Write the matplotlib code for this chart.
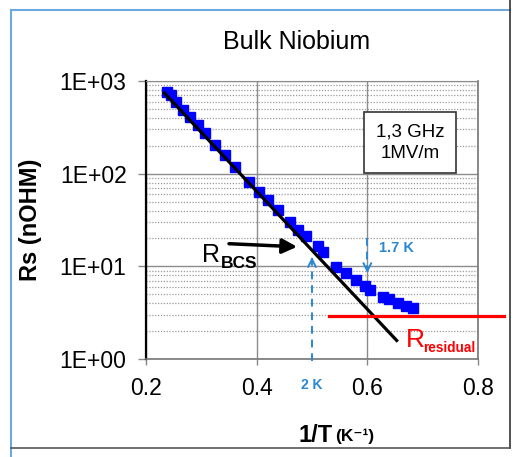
import numpy as np
import matplotlib
matplotlib.use('Agg')
from matplotlib import pyplot as plt
from matplotlib.lines import Line2D
from matplotlib.ticker import FixedLocator, FuncFormatter, LogLocator, NullFormatter

plt.rcParams['font.family'] = ['Liberation Sans', 'DejaVu Sans']

# measured Rs vs 1/T
inv_t = [0.238, 0.246, 0.255, 0.267, 0.279, 0.294, 0.306, 0.324, 0.342, 0.360,
         0.387, 0.405, 0.420, 0.438, 0.460, 0.474, 0.490, 0.510, 0.520, 0.544,
         0.562, 0.580, 0.595, 0.604, 0.628, 0.640, 0.655, 0.670, 0.682]
rs = [767, 706, 598, 487, 412, 335, 273, 204, 159, 119,
      82, 64, 52, 40.6, 30.3, 24.7, 21.3, 16.6, 14.4, 9.9,
      8.43, 7.13, 6.15, 5.56, 4.71, 4.42, 4.0, 3.74, 3.53]

# BCS fit line and residual level
bcs_x = [0.231, 0.655]
bcs_y = [767, 1.54]
res_x = [0.531, 0.847]
res_y = [2.9, 2.9]

xticks = [0.2, 0.4, 0.6, 0.8]
yticks = [1, 10, 100, 1000]

blue_txt = '#2a88d2'

fig = plt.figure(figsize=(5.23, 4.57), dpi=100)
ax = fig.add_axes([146/523, 1-359/457, 332/523, 278/457])

ax.set_yscale('log')
ax.set_xlim(0.2, 0.8)
ax.set_ylim(1, 1000)

ax.plot(inv_t, rs, 's', color='#0000ff', ms=7, mec='#0000ff', zorder=3)
ax.plot(bcs_x, bcs_y, '-', color='black', lw=2.3, zorder=4, solid_capstyle='butt')
ax.plot(res_x, res_y, '-', color='#ff0000', lw=2.3, zorder=4, clip_on=False)

ax.xaxis.set_major_locator(FixedLocator(xticks))
ax.xaxis.set_major_formatter(FuncFormatter(lambda v, p: f'{v:.1f}'))
ax.yaxis.set_major_locator(FixedLocator(yticks))
ax.yaxis.set_major_formatter(FuncFormatter(lambda v, p: f'1E+{int(round(np.log10(v))):02d}'))
ax.yaxis.set_minor_locator(LogLocator(base=10, subs=np.arange(2, 10)))
ax.yaxis.set_minor_formatter(NullFormatter())

ax.grid(which='major', axis='both', color='#8c8c8c', lw=1.0, ls='-', zorder=0)
ax.grid(which='minor', axis='y', color='#9a9a9a', lw=0.9, ls=(0, (1.0, 1.3)), zorder=0)

ax.tick_params(axis='y', which='major', direction='out', length=6, width=1, color='#888888',
               labelsize=16.5, pad=8)
ax.tick_params(axis='y', which='minor', length=0)
ax.tick_params(axis='x', which='major', direction='out', length=4, width=1, color='#888888',
               labelsize=16.5, pad=9)

ax.spines['left'].set_color('black')
ax.spines['left'].set_linewidth(1.6)
ax.spines['bottom'].set_color('#777777')
ax.spines['bottom'].set_linewidth(1.2)
ax.spines['top'].set_color('#8c8c8c')
ax.spines['right'].set_color('#777777')
ax.spines['right'].set_linewidth(1.2)

# 2 K marker
ax.plot([0.5, 0.5], [0.95, 12.5], ls=(0, (4, 3)), color=blue_txt, lw=1.4, clip_on=False, zorder=5)
ax.annotate('', xy=(0.5, 13.5), xytext=(0.5, 10.5),
            arrowprops=dict(arrowstyle='->', color=blue_txt, lw=1.4, mutation_scale=14), zorder=5)
ax.text(0.5, 0.53, '2 K', color=blue_txt, fontsize=10, fontweight='bold',
        ha='center', va='center', clip_on=False)

# 1.7 K marker
ax.plot([0.6, 0.6], [20, 8.8], ls=(0, (4, 3)), color=blue_txt, lw=1.4, zorder=5)
ax.annotate('', xy=(0.6, 7.9), xytext=(0.6, 10.5),
            arrowprops=dict(arrowstyle='->', color=blue_txt, lw=1.4, mutation_scale=14), zorder=5)
ax.text(0.652, 15.8, '1.7 K', color=blue_txt, fontsize=10.5, fontweight='bold',
        ha='center', va='center')

# R_BCS label with arrow
ax.annotate('', xy=(0.478, 16.2), xytext=(0.345, 17.6),
            arrowprops=dict(arrowstyle='-|>', color='black', lw=2.5, mutation_scale=22), zorder=6)
ax.text(0.301, 11.0, 'R', fontsize=18, ha='left', va='baseline', zorder=6)
ax.text(0.335, 9.6, 'BCS', fontsize=12.5, fontweight='bold', ha='left', va='baseline', zorder=6)

# R_residual label
ax.text(0.670, 1.35, 'R', fontsize=19, color='#ff0000', ha='left', va='baseline', clip_on=False, zorder=6)
ax.text(0.701, 1.19, 'residual', fontsize=9.8, color='#ff0000', fontweight='bold',
        ha='left', va='baseline', clip_on=False, zorder=6)

# conditions box
ax.text(0.6775, 215, '1,3 GHz\n1MV/m', fontsize=13.5, ha='center', va='center', linespacing=1.3,
        bbox=dict(boxstyle='square,pad=0.62', fc='white', ec='#333333', lw=1.2), zorder=7)

# titles and axis labels
fig.text(297/523, 1-42/457, 'Bulk Niobium', fontsize=18, ha='center', va='center')
fig.text(30/523, 1-220/457, 'Rs (nOHM)', fontsize=17, fontweight='bold', rotation=90,
         ha='center', va='center')
fig.text(333/523, 1-436/457, '1/T', fontsize=17, fontweight='bold', ha='right', va='center')
fig.text(335/523, 1-436/457, '(K⁻¹)', fontsize=12.5, fontweight='bold',
         ha='left', va='center')

# chart-area frame
W, H = 523, 457
def fline(xs, ys, **kw):
    fig.add_artist(Line2D([x/W for x in xs], [1-y/H for y in ys], transform=fig.transFigure, **kw))

fline([11, 510], [10, 10], color='#6fa8dc', lw=1.5)
fline([11, 11], [10, 457], color='#6fa8dc', lw=1.5)
fline([510, 510], [0, 448], color='#333333', lw=1.2)
fline([11, 510], [448, 448], color='#555555', lw=1.2)

fig.savefig('out.png', dpi=100)
